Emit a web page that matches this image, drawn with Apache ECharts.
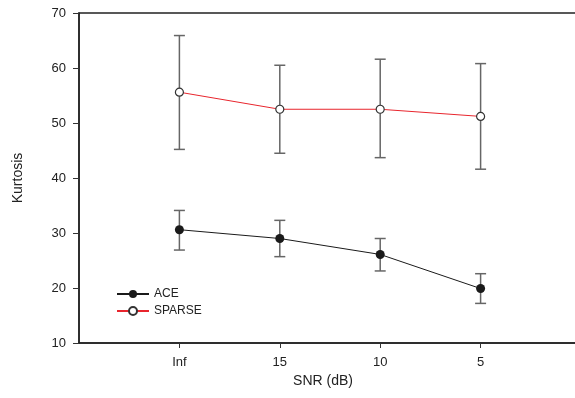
<!DOCTYPE html>
<html>
<head>
<meta charset="utf-8">
<script src="https://cdn.jsdelivr.net/npm/echarts@6/dist/echarts.min.js"></script>
<style>
  html, body { margin: 0; padding: 0; background: #fff; }
  #main { width: 575px; height: 398px; }
</style>
</head>
<body>
<div id="main"></div>
<script>
// x positions 1..4 on a 0..5 axis
const categories = ['Inf', '15', '10', '5'];
const xPos = [1, 2, 3, 4];

const aceMean = [30.6, 29.0, 26.1, 19.9];
const aceLow = [26.9, 25.7, 23.1, 17.2];
const aceHigh = [34.1, 32.3, 29.0, 22.6];

const sparseMean = [55.6, 52.5, 52.5, 51.2];
const sparseLow = [45.2, 44.5, 43.7, 41.6];
const sparseHigh = [65.9, 60.5, 61.6, 60.8];

const yTicks = [10, 20, 30, 40, 50, 60, 70];

let chart = echarts.init(document.getElementById('main'));

let errData = (low, high) => xPos.map((x, i) => [x, low[i], high[i]]);

let errBars = (name, low, high) => ({
    type: 'custom',
    name: name + '_err',
    silent: true,
    z: 1,
    data: errData(low, high),
    renderItem: (params, api) => {
        let lo = api.coord([api.value(0), api.value(1)]);
        let hi = api.coord([api.value(0), api.value(2)]);
        let w = 5.5;
        let style = {stroke: '#666', lineWidth: 1.5};
        return {
            type: 'group',
            children: [
                {type: 'line', shape: {x1: lo[0], y1: lo[1], x2: hi[0], y2: hi[1]}, style: style},
                {type: 'line', shape: {x1: lo[0] - w, y1: lo[1], x2: lo[0] + w, y2: lo[1]}, style: style},
                {type: 'line', shape: {x1: hi[0] - w, y1: hi[1], x2: hi[0] + w, y2: hi[1]}, style: style}
            ]
        };
    }
});

let option = {
    animation: false,
    textStyle: {fontFamily: 'Liberation Sans, Arial, sans-serif'},
    grid: {
        left: 79, top: 13, width: 502, height: 330,
        outerBoundsMode: 'none',
        containLabel: false,
        show: true, borderColor: '#222', borderWidth: 1.5
    },
    legend: {
        orient: 'vertical',
        left: 111, top: 283,
        itemWidth: 32, itemHeight: 10, itemGap: 5,
        data: ['ACE', 'SPARSE'],
        textStyle: {fontSize: 12, color: '#222'}
    },
    xAxis: {
        type: 'value',
        min: 0, max: 5, interval: 1,
        name: 'SNR (dB)',
        nameLocation: 'middle',
        nameGap: 23,
        nameTextStyle: {fontSize: 14, color: '#222', padding: [0, 14, 0, 0]},
        splitLine: {show: false},
        axisLine: {show: true, lineStyle: {color: '#222', width: 1.5}},
        axisTick: {show: true, length: 5, customValues: xPos, lineStyle: {color: '#333'}},
        axisLabel: {
            customValues: xPos,
            margin: 13, fontSize: 13, color: '#222',
            formatter: v => categories[xPos.indexOf(v)] || ''
        }
    },
    yAxis: {
        type: 'value',
        min: 10, max: 70, interval: 10,
        name: 'Kurtosis',
        nameLocation: 'middle',
        nameGap: 54,
        nameTextStyle: {fontSize: 14, color: '#222'},
        splitLine: {show: false},
        axisLine: {show: true, lineStyle: {color: '#222', width: 1.5}},
        axisTick: {show: true, length: 6, lineStyle: {color: '#333'}},
        axisLabel: {margin: 13, fontSize: 13, color: '#222',
            customValues: yTicks}
    },
    series: [
        errBars('ACE', aceLow, aceHigh),
        errBars('SPARSE', sparseLow, sparseHigh),
        {
            name: 'ACE',
            type: 'line',
            z: 3,
            data: xPos.map((x, i) => [x, aceMean[i]]),
            symbol: 'circle',
            symbolSize: 9,
            itemStyle: {color: '#1a1a1a'},
            lineStyle: {color: '#1a1a1a', width: 1}
        },
        {
            name: 'SPARSE',
            type: 'line',
            z: 3,
            data: xPos.map((x, i) => [x, sparseMean[i]]),
            symbol: 'circle',
            symbolSize: 8,
            itemStyle: {color: '#fff', borderColor: '#333', borderWidth: 1.2},
            lineStyle: {color: '#e8252d', width: 1}
        }
    ]
};

chart.setOption(option);
</script>
</body>
</html>
